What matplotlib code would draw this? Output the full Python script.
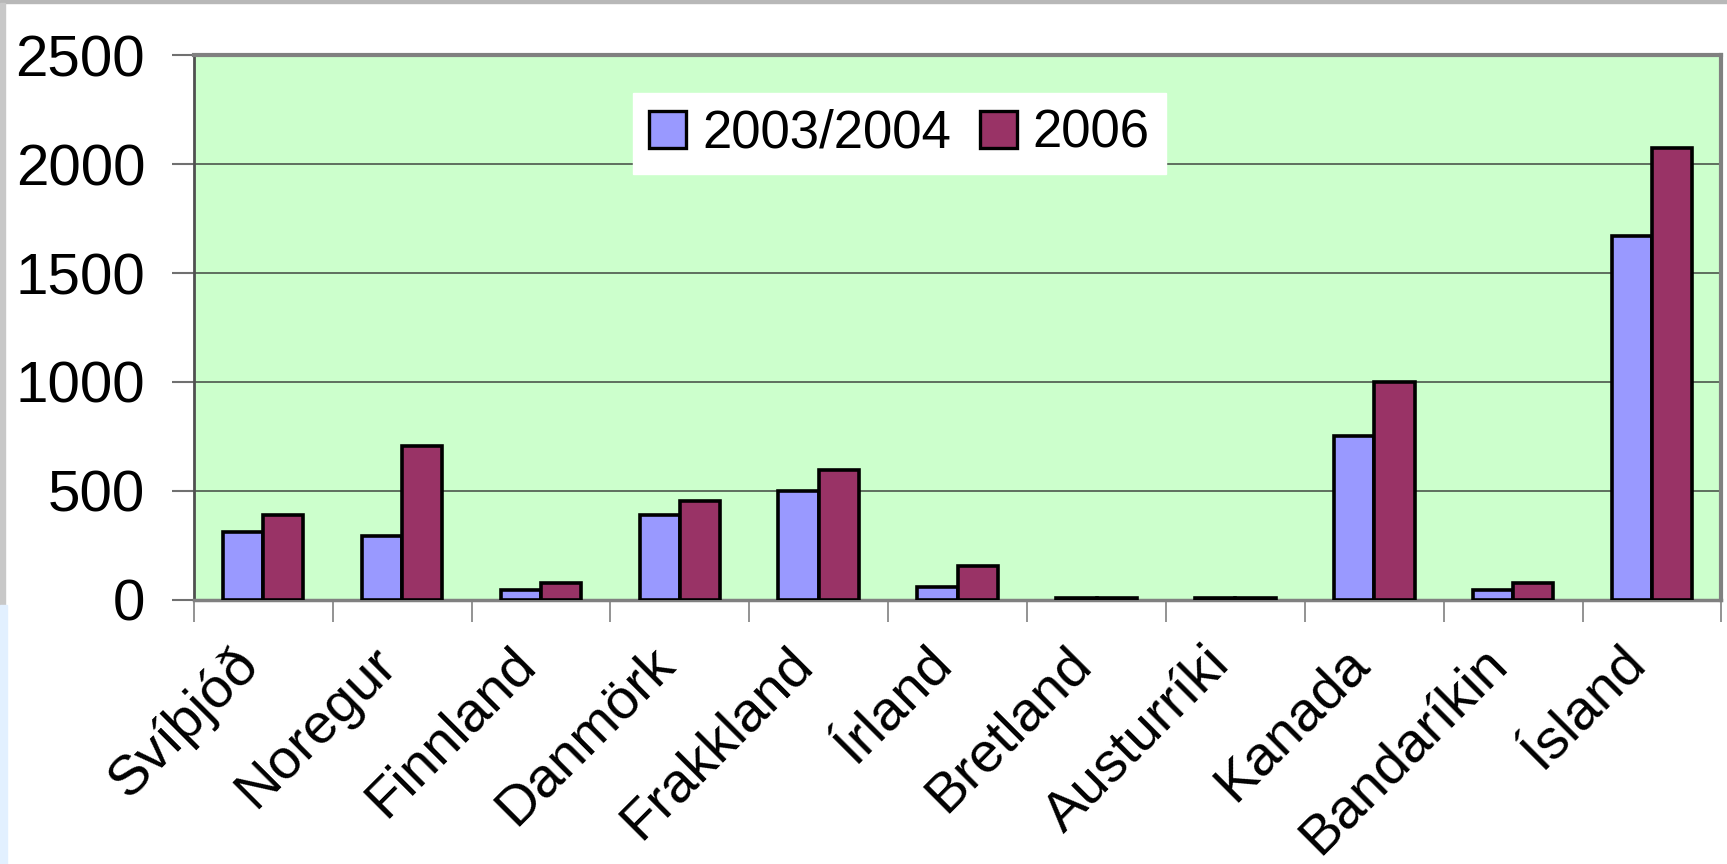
import numpy as np
import matplotlib
matplotlib.use("Agg")
import matplotlib.pyplot as plt
from matplotlib.patches import Rectangle
from matplotlib.transforms import ScaledTranslation

plt.rcParams['font.family'] = ['Liberation Sans', 'DejaVu Sans']

countries = ['Svíþjóð', 'Noregur', 'Finnland', 'Danmörk', 'Frakkland', 'Írland',
             'Bretland', 'Austurríki', 'Kanada', 'Bandaríkin', 'Ísland']
vals_2003 = [310, 295, 45, 390, 500, 60, 8, 8, 750, 45, 1670]
vals_2006 = [390, 705, 78, 455, 595, 155, 8, 8, 1000, 78, 2075]
y_ticks = [0, 500, 1000, 1500, 2000, 2500]

fig = plt.figure(figsize=(17.27, 8.64), dpi=100)
ax = fig.add_axes([0.1122, 0.3056, 0.8846, 0.6307])
ax.set_facecolor('#CCFFCC')

x = np.arange(len(countries))
w = 0.29
ax.bar(x - w / 2, vals_2003, w, color='#9999FF', edgecolor='black', linewidth=2.6,
       label='2003/2004', zorder=3)
ax.bar(x + w / 2, vals_2006, w, color='#993366', edgecolor='black', linewidth=2.6,
       label='2006', zorder=3)

ax.set_xlim(-0.5, len(countries) - 0.5)
ax.set_ylim(0, 2500)
ax.set_yticks(y_ticks)
ax.yaxis.grid(True, color='#5f6f5f', linewidth=1.4, zorder=1)

# category ticks sit on the boundaries, labels on the centres
ax.set_xticks(np.arange(len(countries) + 1) - 0.5)
ax.set_xticklabels([])
ax.set_xticks(x, minor=True)
ax.set_xticklabels(countries, minor=True, rotation=45, ha='right',
                   rotation_mode='anchor', fontsize=40.5)
ax.tick_params(axis='x', which='minor', length=0, pad=22)
ax.tick_params(axis='x', which='major', length=16, width=1.2, color='#808080')
ax.tick_params(axis='y', length=16, width=1.5, color='#707070', labelsize=42, pad=19)

shift = ScaledTranslation(-32 / 100, -7 / 100, fig.dpi_scale_trans)
for lab in ax.get_xticklabels(minor=True):
    lab.set_transform(lab.get_transform() + shift)

for side in ['top', 'right']:
    ax.spines[side].set_color('#808080')
    ax.spines[side].set_linewidth(3)
ax.spines['left'].set_color('#505050')
ax.spines['left'].set_linewidth(2)
ax.spines['bottom'].set_color('#808080')
ax.spines['bottom'].set_linewidth(2.5)

leg = ax.legend(loc='center', bbox_to_anchor=(0.462, 0.856), ncol=2, fontsize=38,
                frameon=True, fancybox=False, edgecolor='white', framealpha=1,
                handlelength=0.7, handleheight=0.7, handletextpad=0.3,
                columnspacing=0.55, borderpad=0.3)
for h in leg.legend_handles:
    h.set_linewidth(2.4)

# slide border bits
fig.patches.append(Rectangle((0, 0.996), 1, 0.004, transform=fig.transFigure,
                             color='#b8b8b8', zorder=0))
fig.patches.append(Rectangle((0, 0.3), 0.003, 0.696, transform=fig.transFigure,
                             color='#c8c8c8', zorder=0))
fig.patches.append(Rectangle((0, 0), 0.004, 0.3, transform=fig.transFigure,
                             color='#e2f0ff', zorder=0))

fig.savefig('out.png', dpi=100)
